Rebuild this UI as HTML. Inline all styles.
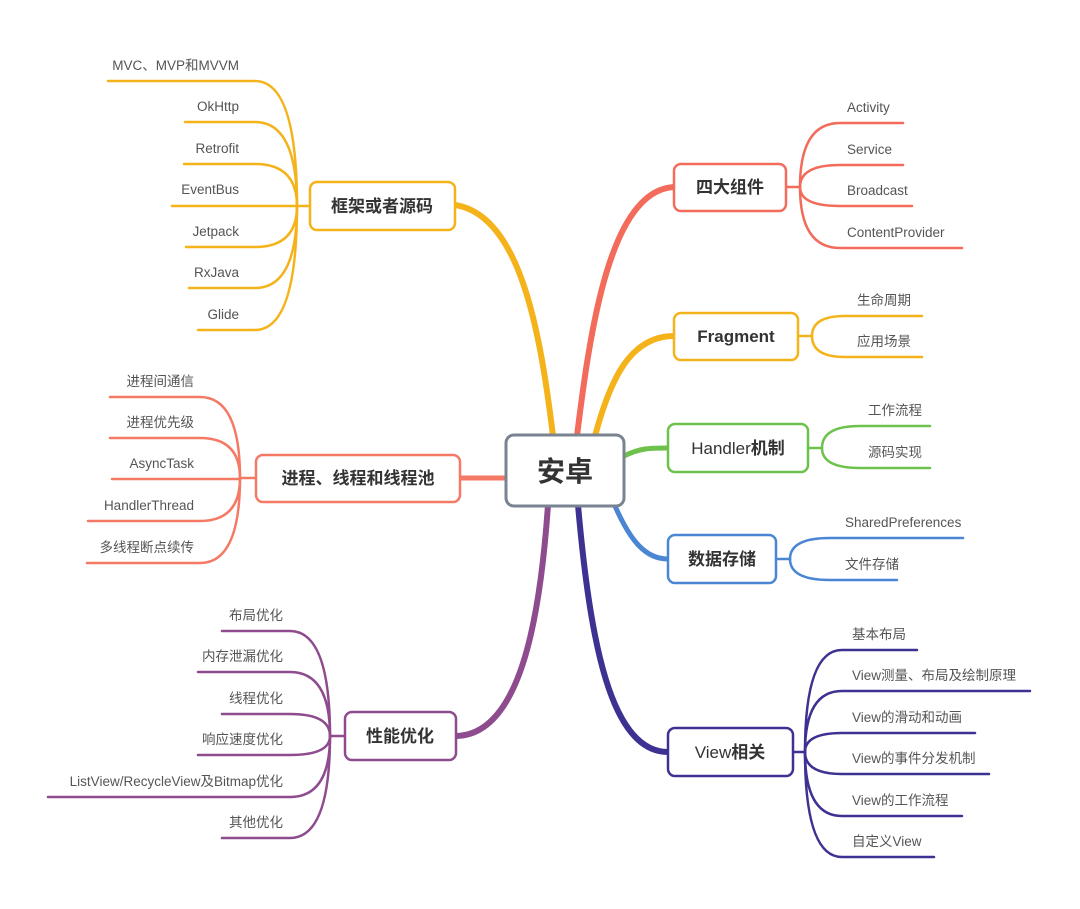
<!DOCTYPE html>
<html><head><meta charset="utf-8"><style>
html,body{margin:0;padding:0;background:#fff;}
svg{display:block;}
text{font-family:"Liberation Sans","Noto Sans CJK SC",sans-serif;}
.l{font-size:13.5px;fill:#555;}
.n{font-size:17px;font-weight:bold;fill:#333;}
</style></head><body>
<svg width="1080" height="909" viewBox="0 0 1080 909" xmlns="http://www.w3.org/2000/svg">
<g fill="none" stroke-linecap="round">
<path d="M553,436 C540,330 520,215 455,205" stroke="#f5b31b" stroke-width="6"/>
<path d="M506,478 L460,478" stroke="#f47a66" stroke-width="5"/>
<path d="M548,505 C540,620 520,735 456,736" stroke="#8e4b8e" stroke-width="6"/>
<path d="M577,436 C590,330 610,190 674,187" stroke="#f26b5b" stroke-width="6"/>
<path d="M595,436 C610,380 630,336 674,336" stroke="#f5b31b" stroke-width="6"/>
<path d="M624,456 C640,448 650,448 668,448" stroke="#6cc24a" stroke-width="5"/>
<path d="M615,506 C630,540 645,559 668,559" stroke="#4a86d4" stroke-width="5"/>
<path d="M578,505 C590,640 610,752 668,752" stroke="#3d3192" stroke-width="6"/>

<g stroke="#f5b31b" stroke-width="2.5">
<path d="M310,206 L297,206"/>
<path d="M108,81 L255,81 Q297,81 297,206"/>
<path d="M185,122 L255,122 Q297,122 297,206"/>
<path d="M184,164 L255,164 Q297,164 297,206"/>
<path d="M172,206 L297,206"/>
<path d="M186,247 L255,247 Q297,247 297,206"/>
<path d="M189,288 L255,288 Q297,288 297,206"/>
<path d="M198,330 L255,330 Q297,330 297,206"/>
</g>
<g stroke="#f47a66" stroke-width="2.5">
<path d="M256,478 L240,478"/>
<path d="M110,397 L200,397 Q240,397 240,478"/>
<path d="M110,438 L200,438 Q240,438 240,478"/>
<path d="M112,479 L240,479"/>
<path d="M88,521 L200,521 Q240,521 240,478"/>
<path d="M87,563 L200,563 Q240,563 240,478"/>
</g>
<g stroke="#8e4b8e" stroke-width="2.5">
<path d="M345,736 L330,736"/>
<path d="M222,631 L290,631 Q330,631 330,736"/>
<path d="M198,672 L290,672 Q330,672 330,736"/>
<path d="M222,714 L290,714 Q330,714 330,736"/>
<path d="M198,755 L290,755 Q330,755 330,736"/>
<path d="M48,797 L290,797 Q330,797 330,736"/>
<path d="M222,838 L290,838 Q330,838 330,736"/>
</g>
<g stroke="#f26b5b" stroke-width="2.5">
<path d="M786,187 L800,187"/>
<path d="M903,123 L840,123 Q800,123 800,187"/>
<path d="M903,165 L840,165 Q800,165 800,187"/>
<path d="M912,206 L840,206 Q800,206 800,187"/>
<path d="M962,248 L840,248 Q800,248 800,187"/>
</g>
<g stroke="#f5b31b" stroke-width="2.5">
<path d="M798,336 L812,336"/>
<path d="M922,316 L845,316 Q812,316 812,336"/>
<path d="M922,357 L845,357 Q812,357 812,336"/>
</g>
<g stroke="#6cc24a" stroke-width="2.5">
<path d="M808,448 L822,448"/>
<path d="M930,426 L860,426 Q822,426 822,448"/>
<path d="M930,468 L860,468 Q822,468 822,448"/>
</g>
<g stroke="#4a86d4" stroke-width="2.5">
<path d="M776,559 L790,559"/>
<path d="M963,538 L830,538 Q790,538 790,559"/>
<path d="M897,580 L830,580 Q790,580 790,559"/>
</g>
<g stroke="#3d3192" stroke-width="2.5">
<path d="M793,752 L805,752"/>
<path d="M917,650 L842,650 Q805,650 805,752"/>
<path d="M1030,691 L842,691 Q805,691 805,752"/>
<path d="M975,733 L842,733 Q805,733 805,752"/>
<path d="M989,774 L842,774 Q805,774 805,752"/>
<path d="M962,816 L842,816 Q805,816 805,752"/>
<path d="M934,857 L842,857 Q805,857 805,752"/>
</g>
</g>

<g fill="#fff" stroke-width="2.5">
<rect x="506" y="435" width="118" height="71" rx="8" stroke="#7a8391" stroke-width="3"/>
<rect x="310" y="182" width="145" height="48" rx="7" stroke="#f5b31b"/>
<rect x="256" y="455" width="204" height="47" rx="7" stroke="#f47a66"/>
<rect x="345" y="712" width="111" height="48" rx="7" stroke="#8e4b8e"/>
<rect x="674" y="164" width="112" height="47" rx="7" stroke="#f26b5b"/>
<rect x="674" y="313" width="124" height="47" rx="7" stroke="#f5b31b"/>
<rect x="668" y="424" width="140" height="48" rx="7" stroke="#6cc24a"/>
<rect x="668" y="535" width="108" height="48" rx="7" stroke="#4a86d4"/>
<rect x="668" y="728" width="125" height="48" rx="7" stroke="#3d3192"/>
</g>
<text x="565" y="481" text-anchor="middle" font-size="28" font-weight="bold" fill="#333">安卓</text>
<text class="n" x="382" y="212" text-anchor="middle">框架或者源码</text>
<text class="n" x="358" y="484" text-anchor="middle">进程、线程和线程池</text>
<text class="n" x="400" y="742" text-anchor="middle">性能优化</text>
<text class="n" x="730" y="193" text-anchor="middle">四大组件</text>
<text class="n" x="736" y="342" text-anchor="middle" font-weight="normal">Fragment</text>
<text class="n" x="738" y="454" text-anchor="middle"><tspan font-weight="normal">Handler</tspan>机制</text>
<text class="n" x="722" y="565" text-anchor="middle">数据存储</text>
<text class="n" x="730" y="758" text-anchor="middle"><tspan font-weight="normal">View</tspan>相关</text>

<g text-anchor="end">
<text class="l" x="239" y="70">MVC、MVP和MVVM</text>
<text class="l" x="239" y="111">OkHttp</text>
<text class="l" x="239" y="153">Retrofit</text>
<text class="l" x="239" y="194">EventBus</text>
<text class="l" x="239" y="236">Jetpack</text>
<text class="l" x="239" y="277">RxJava</text>
<text class="l" x="239" y="319">Glide</text>
<text class="l" x="194" y="386">进程间通信</text>
<text class="l" x="194" y="427">进程优先级</text>
<text class="l" x="194" y="468">AsyncTask</text>
<text class="l" x="194" y="510">HandlerThread</text>
<text class="l" x="194" y="552">多线程断点续传</text>
<text class="l" x="283" y="620">布局优化</text>
<text class="l" x="283" y="661">内存泄漏优化</text>
<text class="l" x="283" y="703">线程优化</text>
<text class="l" x="283" y="744">响应速度优化</text>
<text class="l" x="283" y="786">ListView/RecycleView及Bitmap优化</text>
<text class="l" x="283" y="827">其他优化</text>
</g>
<g>
<text class="l" x="847" y="112">Activity</text>
<text class="l" x="847" y="154">Service</text>
<text class="l" x="847" y="195">Broadcast</text>
<text class="l" x="847" y="237">ContentProvider</text>
<text class="l" x="857" y="305">生命周期</text>
<text class="l" x="857" y="346">应用场景</text>
<text class="l" x="868" y="415">工作流程</text>
<text class="l" x="868" y="457">源码实现</text>
<text class="l" x="845" y="527">SharedPreferences</text>
<text class="l" x="845" y="569">文件存储</text>
<text class="l" x="852" y="639">基本布局</text>
<text class="l" x="852" y="680">View测量、布局及绘制原理</text>
<text class="l" x="852" y="722">View的滑动和动画</text>
<text class="l" x="852" y="763">View的事件分发机制</text>
<text class="l" x="852" y="805">View的工作流程</text>
<text class="l" x="852" y="846">自定义View</text>
</g>
</svg>
</body></html>
